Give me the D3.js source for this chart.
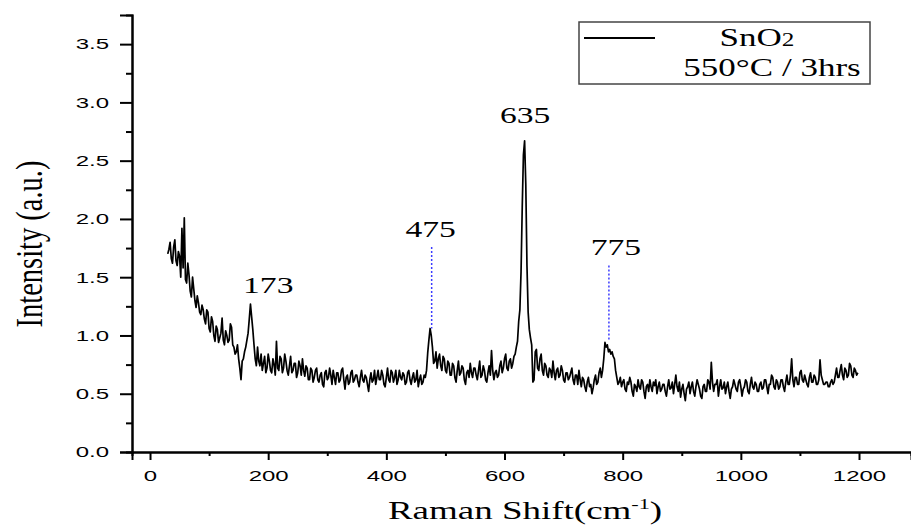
<!DOCTYPE html>
<html>
<head>
<meta charset="utf-8">
<script src="https://cdn.jsdelivr.net/npm/d3@7"></script>
<style>
  body { margin: 0; background: #fff; }
  svg { display: block; }
</style>
</head>
<body>
<div id="chart"></div>
<script>
// Raman spectrum of SnO2, sampled every 2 cm-1 from 30 to 1198
var shiftStart = 30, shiftStep = 2;
var intensity = [
  1.70, 1.74, 1.80, 1.66, 1.62, 1.76, 1.82, 1.64, 1.60, 1.72, 1.68, 1.50, 1.92, 1.58, 2.01, 1.48, 1.45, 1.62, 1.52, 1.38,
  1.33, 1.50, 1.40, 1.30, 1.24, 1.34, 1.28, 1.20, 1.18, 1.26, 1.22, 1.14, 1.10, 1.22, 1.20, 1.06, 1.03, 1.16, 1.12, 1.00,
  0.95, 1.08, 1.05, 0.94, 0.98, 1.02, 1.15, 0.96, 0.92, 1.04, 1.00, 0.94, 0.96, 1.10, 1.07, 0.92, 0.90, 0.84, 0.86, 0.92,
  0.80, 0.72, 0.62, 0.78, 0.80, 0.86, 0.90, 0.96, 1.02, 1.14, 1.27, 1.16, 1.05, 0.92, 0.80, 0.74, 0.90, 0.78, 0.74, 0.84,
  0.70, 0.76, 0.82, 0.68, 0.72, 0.84, 0.78, 0.70, 0.68, 0.80, 0.75, 0.66, 0.95, 0.72, 0.70, 0.82, 0.80, 0.68, 0.72, 0.84,
  0.78, 0.70, 0.66, 0.74, 0.82, 0.68, 0.70, 0.76, 0.76, 0.64, 0.68, 0.78, 0.74, 0.66, 0.80, 0.70, 0.65, 0.74, 0.72, 0.62,
  0.62, 0.72, 0.70, 0.60, 0.64, 0.70, 0.72, 0.62, 0.60, 0.66, 0.68, 0.58, 0.56, 0.68, 0.70, 0.62, 0.64, 0.72, 0.66, 0.58,
  0.70, 0.64, 0.58, 0.68, 0.68, 0.60, 0.62, 0.70, 0.72, 0.62, 0.54, 0.64, 0.66, 0.58, 0.60, 0.68, 0.70, 0.60, 0.62, 0.66,
  0.66, 0.60, 0.56, 0.64, 0.70, 0.62, 0.60, 0.66, 0.64, 0.58, 0.52, 0.62, 0.68, 0.60, 0.62, 0.70, 0.58, 0.64, 0.70, 0.62,
  0.62, 0.70, 0.66, 0.58, 0.56, 0.64, 0.72, 0.62, 0.60, 0.70, 0.68, 0.60, 0.64, 0.70, 0.58, 0.62, 0.70, 0.64, 0.62, 0.68,
  0.66, 0.58, 0.60, 0.68, 0.70, 0.62, 0.58, 0.64, 0.68, 0.60, 0.62, 0.70, 0.56, 0.62, 0.66, 0.58, 0.60, 0.66, 0.64, 0.70,
  0.85, 0.96, 1.06, 1.00, 0.90, 0.76, 0.78, 0.86, 0.72, 0.80, 0.84, 0.74, 0.70, 0.82, 0.80, 0.70, 0.68, 0.78, 0.76, 0.66,
  0.66, 0.76, 0.74, 0.64, 0.60, 0.70, 0.78, 0.66, 0.68, 0.74, 0.72, 0.62, 0.58, 0.68, 0.70, 0.64, 0.76, 0.68, 0.64, 0.72,
  0.72, 0.66, 0.62, 0.70, 0.78, 0.64, 0.66, 0.74, 0.70, 0.62, 0.60, 0.68, 0.74, 0.66, 0.87, 0.70, 0.62, 0.68, 0.70, 0.64,
  0.66, 0.74, 0.78, 0.68, 0.72, 0.80, 0.84, 0.72, 0.70, 0.78, 0.80, 0.72, 0.76, 0.82, 0.84, 0.90, 0.95, 1.12, 1.22, 1.55,
  2.10, 2.55, 2.67, 2.30, 1.60, 1.20, 1.05, 0.98, 0.92, 0.60, 0.62, 0.86, 0.88, 0.72, 0.70, 0.80, 0.84, 0.70, 0.66, 0.76,
  0.74, 0.66, 0.64, 0.72, 0.70, 0.64, 0.78, 0.68, 0.62, 0.70, 0.72, 0.64, 0.66, 0.74, 0.70, 0.62, 0.60, 0.68, 0.68, 0.62,
  0.64, 0.68, 0.72, 0.62, 0.58, 0.66, 0.66, 0.58, 0.70, 0.62, 0.56, 0.64, 0.62, 0.56, 0.52, 0.60, 0.64, 0.56, 0.58, 0.50,
  0.55, 0.62, 0.66, 0.58, 0.60, 0.68, 0.72, 0.64, 0.70, 0.80, 0.94, 0.90, 0.92, 0.86, 0.88, 0.84, 0.86, 0.82, 0.80, 0.70,
  0.64, 0.58, 0.60, 0.64, 0.56, 0.60, 0.62, 0.54, 0.52, 0.60, 0.58, 0.64, 0.60, 0.52, 0.48, 0.58, 0.56, 0.52, 0.62, 0.56,
  0.54, 0.62, 0.60, 0.52, 0.46, 0.56, 0.58, 0.52, 0.62, 0.56, 0.52, 0.60, 0.57, 0.62, 0.50, 0.56, 0.60, 0.52, 0.54, 0.58,
  0.58, 0.52, 0.48, 0.56, 0.62, 0.54, 0.55, 0.60, 0.50, 0.58, 0.66, 0.56, 0.52, 0.60, 0.47, 0.54, 0.58, 0.50, 0.44, 0.54,
  0.56, 0.60, 0.50, 0.56, 0.60, 0.52, 0.48, 0.56, 0.62, 0.58, 0.54, 0.48, 0.46, 0.56, 0.58, 0.52, 0.52, 0.62, 0.60, 0.54,
  0.77, 0.60, 0.52, 0.58, 0.58, 0.62, 0.48, 0.56, 0.62, 0.54, 0.55, 0.60, 0.50, 0.56, 0.60, 0.52, 0.46, 0.54, 0.56, 0.62,
  0.58, 0.54, 0.52, 0.60, 0.62, 0.56, 0.48, 0.54, 0.56, 0.62, 0.60, 0.52, 0.50, 0.58, 0.64, 0.56, 0.54, 0.60, 0.58, 0.52,
  0.52, 0.58, 0.60, 0.54, 0.55, 0.62, 0.62, 0.56, 0.50, 0.58, 0.58, 0.66, 0.64, 0.56, 0.54, 0.62, 0.60, 0.54, 0.56, 0.62,
  0.62, 0.56, 0.52, 0.60, 0.66, 0.58, 0.58, 0.66, 0.80, 0.62, 0.56, 0.64, 0.64, 0.58, 0.58, 0.68, 0.70, 0.62, 0.60, 0.66,
  0.62, 0.58, 0.56, 0.64, 0.68, 0.60, 0.60, 0.66, 0.64, 0.58, 0.58, 0.62, 0.79, 0.66, 0.62, 0.58, 0.58, 0.60, 0.60, 0.56,
  0.56, 0.60, 0.62, 0.58, 0.60, 0.66, 0.72, 0.64, 0.64, 0.70, 0.75, 0.66, 0.62, 0.72, 0.70, 0.64, 0.66, 0.76, 0.74, 0.66,
  0.64, 0.72, 0.70, 0.66, 0.68
];

var xTicks = [0, 200, 400, 600, 800, 1000, 1200];
var xMinorTicks = [100, 300, 500, 700, 900, 1100];
var yTicks = [0, 0.5, 1.0, 1.5, 2.0, 2.5, 3.0, 3.5];
var yMinorTicks = [0.25, 0.75, 1.25, 1.75, 2.25, 2.75, 3.25];

// peak annotations
var peakLabels = ["173", "475", "635", "775"];
var peakShift = [173, 475, 635, 775];
var peakHeight = [1.27, 1.06, 2.67, 0.96];
var leaderPeaks = [475, 775];
var leaderBottom = [1.06, 0.96];
var leaderTop = [1.76, 1.60];

var legendName = "SnO";
var legendSub = "2";
var legendNote = "550\u00B0C / 3hrs";

var width = 911, height = 525;
var stretch = 1.6;    // tick labels look horizontally stretched
var textStretch = 1.4;

var spectrum = intensity.map(function (v, i) {
  return { shift: shiftStart + i * shiftStep, value: v };
});

var x = d3.scaleLinear().domain([-30.5, 1288]).range([132, 911]);
var y = d3.scaleLinear().domain([0, 3.75]).range([452, 15]);

var svg = d3.select("#chart").append("svg")
  .attr("width", width)
  .attr("height", height)
  .style("background", "#fff");

// axes
var xAxis = d3.axisBottom(x).tickValues(xTicks).tickSize(8).tickPadding(10).tickFormat(d3.format("d"));
var xMinor = d3.axisBottom(x).tickValues(xMinorTicks).tickSize(4).tickFormat("");
var yAxis = d3.axisLeft(y).tickValues(yTicks).tickSize(12).tickPadding(11).tickFormat(d3.format(".1f"));
var yMinor = d3.axisLeft(y).tickValues(yMinorTicks).tickSize(6).tickFormat("");

var gx = svg.append("g").attr("transform", "translate(0," + y(0) + ")").call(xAxis);
svg.append("g").attr("transform", "translate(0," + y(0) + ")").call(xMinor);
var gy = svg.append("g").attr("transform", "translate(" + x(-30.5) + ",0)").call(yAxis);
svg.append("g").attr("transform", "translate(" + x(-30.5) + ",0)").call(yMinor);

svg.selectAll(".domain").attr("stroke", "#000").attr("stroke-width", 2);
svg.selectAll(".tick line").attr("stroke", "#000").attr("stroke-width", 2);

gx.selectAll("text")
  .attr("font-family", "Arial, 'Liberation Sans', sans-serif")
  .attr("font-size", 15)
  .attr("fill", "#000")
  .attr("transform", "scale(" + stretch + ",1)");

gy.selectAll("text")
  .attr("font-family", "Arial, 'Liberation Sans', sans-serif")
  .attr("font-size", 15)
  .attr("fill", "#000")
  .attr("x", -23 / stretch)
  .attr("transform", "scale(" + stretch + ",1)");

// spectrum line
var line = d3.line()
  .x(function (d) { return x(d.shift); })
  .y(function (d) { return y(d.value); });

svg.append("path")
  .datum(spectrum)
  .attr("fill", "none")
  .attr("stroke", "#000")
  .attr("stroke-width", 1.7)
  .attr("stroke-linejoin", "round")
  .attr("d", line);

// dashed leaders
svg.selectAll(".leader")
  .data(leaderPeaks)
  .enter().append("line")
  .attr("class", "leader")
  .attr("x1", function (d) { return x(d) + 1; })
  .attr("x2", function (d) { return x(d) + 1; })
  .attr("y1", function (d, i) { return y(leaderTop[i]); })
  .attr("y2", function (d, i) { return y(leaderBottom[i]); })
  .attr("stroke", "#3b3bff")
  .attr("stroke-width", 1.5)
  .attr("stroke-dasharray", "2,2");

// peak labels
var labelDx = [16, 0, 0, 8];
var labelDy = [-11, -91, -18, -85];
svg.selectAll(".peak")
  .data(peakLabels)
  .enter().append("text")
  .attr("class", "peak")
  .attr("transform", function (d, i) {
    return "translate(" + (x(peakShift[i]) + labelDx[i]) + "," + (y(peakHeight[i]) + labelDy[i]) + ") scale(" + textStretch + ",1)";
  })
  .attr("text-anchor", "middle")
  .attr("font-family", "'Liberation Serif', 'Times New Roman', serif")
  .attr("font-size", 24)
  .attr("fill", "#000")
  .text(function (d) { return d; });

// legend
var legend = svg.append("g");
legend.append("rect")
  .attr("x", 579).attr("y", 22)
  .attr("width", 291).attr("height", 62)
  .attr("fill", "none")
  .attr("stroke", "#444")
  .attr("stroke-width", 1.5);
legend.append("line")
  .attr("x1", 584).attr("x2", 655)
  .attr("y1", 38).attr("y2", 38)
  .attr("stroke", "#000").attr("stroke-width", 2);
var nameText = legend.append("text")
  .attr("transform", "translate(757,46) scale(" + textStretch + ",1)")
  .attr("text-anchor", "middle")
  .attr("font-family", "'Liberation Serif', 'Times New Roman', serif")
  .attr("font-size", 25)
  .attr("fill", "#000");
nameText.append("tspan").text(legendName);
nameText.append("tspan").attr("font-size", 18).text(legendSub);
legend.append("text")
  .attr("transform", "translate(772,76) scale(" + textStretch + ",1)")
  .attr("text-anchor", "middle")
  .attr("font-family", "'Liberation Serif', 'Times New Roman', serif")
  .attr("font-size", 25)
  .attr("fill", "#000")
  .text(legendNote);

// axis titles
var xTitle = svg.append("text")
  .attr("transform", "translate(525,519) scale(1.48,1)")
  .attr("text-anchor", "middle")
  .attr("font-family", "'Liberation Serif', 'Times New Roman', serif")
  .attr("font-size", 25)
  .attr("fill", "#000");
xTitle.append("tspan").text("Raman Shift(cm");
xTitle.append("tspan").attr("font-size", 15).attr("dy", -10).text("-1");
xTitle.append("tspan").attr("dy", 10).text(")");

svg.append("text")
  .attr("transform", "translate(42,244) rotate(-90) scale(1,1.35)")
  .attr("text-anchor", "middle")
  .attr("font-family", "'Liberation Serif', 'Times New Roman', serif")
  .attr("font-size", 28.5)
  .attr("fill", "#000")
  .text("Intensity (a.u.)");
</script>
</body>
</html>
